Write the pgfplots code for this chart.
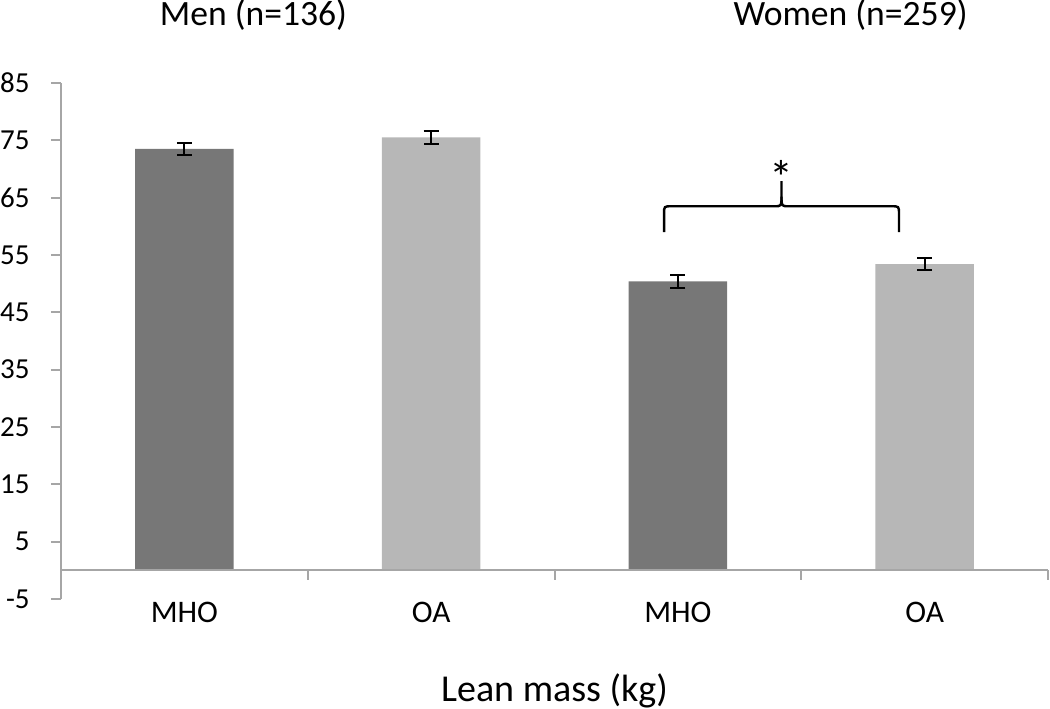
\documentclass[border=0pt]{standalone}
\usepackage{pgfplots}
\pgfplotsset{compat=1.18}
\usepackage{fontspec}
\setmainfont{Carlito}
\definecolor{darkbar}{HTML}{777777}
\definecolor{lightbar}{HTML}{B7B7B7}
\definecolor{axisgray}{HTML}{A6A6A6}
\begin{document}
\begin{tikzpicture}
\begin{axis}[
  scale only axis, width=493.5pt, height=258pt,
  xmin=-0.5, xmax=3.5, ymin=-5, ymax=85,
  axis y line=left, axis x line=bottom,
  x axis line style={draw=none},
  y axis line style={axisgray, line width=1pt, -},
  ytick={-5,5,15,25,35,45,55,65,75,85},
  yticklabels={-5,5,15,25,35,45,55,65,75,85},
  ytick style={axisgray, line width=1pt},
  tick align=outside, major tick length=5pt,
  xtick={0,1,2,3}, xticklabels={MHO,OA,MHO,OA},
  xtick style={draw=none},
  yticklabel style={font=\fontsize{14.5}{16}\selectfont, anchor=east, inner sep=0pt, xshift=-10.5pt},
  xticklabel style={font=\fontsize{15.7}{18}\selectfont, anchor=base, inner sep=0pt, yshift=-7pt},
  ybar, bar width=0.4,
  clip=false,
]
\addplot[bar shift=0pt, fill=darkbar, draw=none,
  error bars/.cd, y dir=both, y explicit,
  error bar style={draw=black, line width=1pt},
  error mark options={draw=black, line width=1pt, mark size=3.75pt, rotate=90}]
  coordinates {(0,73.5) +- (0,1.05) (2,50.4) +- (0,1.15)};
\addplot[bar shift=0pt, fill=lightbar, draw=none,
  error bars/.cd, y dir=both, y explicit,
  error bar style={draw=black, line width=1pt},
  error mark options={draw=black, line width=1pt, mark size=3.75pt, rotate=90}]
  coordinates {(1,75.5) +- (0,1.15) (3,53.4) +- (0,1.1)};
\draw[axisgray, line width=1pt] (axis cs:-0.5,0) -- (axis cs:3.5,0);
\pgfplotsinvokeforeach{0.5,1.5,2.5,3.5}{\draw[axisgray, line width=1pt] (axis cs:#1,0) -- ++(0pt,-5pt);}
% brace
\draw[black, line width=1.2pt] (axis cs:1.944,59) -- (axis cs:1.944,62.2)
  .. controls (axis cs:1.944,63.5) .. (axis cs:1.975,63.5) -- (axis cs:2.39,63.5)
  .. controls (axis cs:2.42,63.5) .. (axis cs:2.42,65.2) -- (axis cs:2.42,67.9);
\draw[black, line width=1.2pt] (axis cs:2.42,65.2)
  .. controls (axis cs:2.42,63.5) .. (axis cs:2.45,63.5) -- (axis cs:2.865,63.5)
  .. controls (axis cs:2.896,63.5) .. (axis cs:2.896,62.2) -- (axis cs:2.896,59);
\node[anchor=base, inner sep=0pt] at (axis cs:2.42,65.5) {\fontsize{24}{24}\selectfont *};
% titles
\node[anchor=base, inner sep=0pt] at (axis cs:0.28,85) [yshift=28.5pt] {\fontsize{17.8}{22}\selectfont Men (n=136)};
\node[anchor=base, inner sep=0pt] at (axis cs:2.70,85) [yshift=28.5pt] {\fontsize{17.8}{22}\selectfont Women (n=259)};
\node[anchor=base, inner sep=0pt] at (rel axis cs:0.5,0) [yshift=-51.5pt] {\fontsize{19}{22}\selectfont Lean mass (kg)};
\coordinate (bl) at (rel axis cs:0,0);
\coordinate (tr) at (rel axis cs:1,1);
\end{axis}
\pgfresetboundingbox
\path ([xshift=-30.5pt,yshift=-55pt]bl) rectangle ([xshift=1pt,yshift=41.5pt]tr);
\end{tikzpicture}
\end{document}
